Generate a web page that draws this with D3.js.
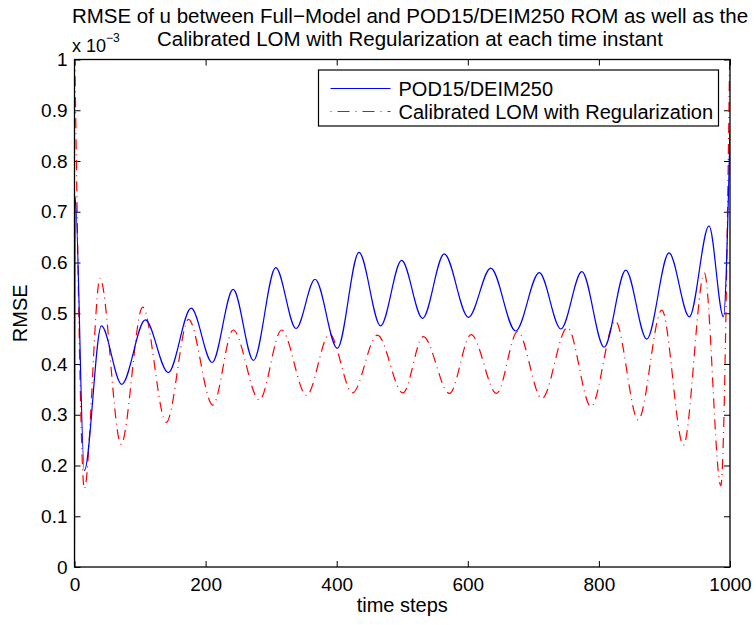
<!DOCTYPE html>
<html>
<head>
<meta charset="utf-8">
<script src="https://cdn.jsdelivr.net/npm/d3@7"></script>
<style>
  body { margin: 0; background: #fff; }
  svg { font-family: "Liberation Sans", Arial, sans-serif; }
  .axis text { font-size: 19px; fill: #000; }
  .axis line { stroke: #000; }
</style>
</head>
<body>
<div id="chart"></div>
<script>
// values (peaks and troughs), units of 1e-3
const podSteps = [0, 1, 15, 41, 72, 108, 143, 178, 210, 242, 273, 307, 338, 367, 401, 434, 467, 499, 531, 564, 601, 635, 673, 709, 742, 774, 808, 841, 873, 907, 938, 968, 990, 1000]
const podValues = [0, 0.73, 0.19, 0.475, 0.36, 0.487, 0.383, 0.51, 0.403, 0.547, 0.407, 0.59, 0.47, 0.567, 0.431, 0.62, 0.475, 0.604, 0.49, 0.617, 0.492, 0.589, 0.465, 0.58, 0.469, 0.582, 0.433, 0.585, 0.449, 0.619, 0.493, 0.672, 0.493, 0.86]

const lomSteps = [0, 15, 39, 71, 104, 140, 174, 211, 242, 282, 316, 354, 389, 424, 462, 501, 532, 572, 605, 644, 676, 713, 752, 788, 825, 860, 896, 929, 961, 986, 1000]
const lomValues = [1.05, 0.154, 0.569, 0.242, 0.512, 0.285, 0.488, 0.319, 0.467, 0.329, 0.467, 0.338, 0.459, 0.343, 0.457, 0.343, 0.454, 0.342, 0.458, 0.342, 0.464, 0.332, 0.472, 0.316, 0.485, 0.29, 0.506, 0.24, 0.579, 0.16, 1.05]

const xTicks = [0, 200, 400, 600, 800, 1000]
const yTicks = [0, 0.1, 0.2, 0.3, 0.4, 0.5, 0.6, 0.7, 0.8, 0.9, 1]
const seriesNames = ['POD15/DEIM250', 'Calibrated LOM with Regularization']

const width = 756
const height = 625
const margin = { top: 59.5, left: 74.5, right: 26, bottom: 58 }
const innerW = width - margin.left - margin.right
const innerH = height - margin.top - margin.bottom

const svg = d3.select('#chart').append('svg')
  .attr('width', width)
  .attr('height', height)

const x = d3.scaleLinear().domain([0, 1000]).range([0, innerW])
const y = d3.scaleLinear().domain([0, 1]).range([innerH, 0])

const g = svg.append('g')
  .attr('transform', `translate(${margin.left},${margin.top})`)

g.append('clipPath').attr('id', 'clip')
  .append('rect').attr('width', innerW).attr('height', innerH)

// axes with inward ticks on all four sides
const tick = 6
g.append('g').attr('class', 'axis')
  .attr('transform', `translate(0,${innerH})`)
  .call(d3.axisBottom(x).tickValues(xTicks).tickSize(-tick).tickPadding(11).tickFormat(d3.format('d')))
g.append('g').attr('class', 'axis')
  .call(d3.axisTop(x).tickValues(xTicks).tickSize(-tick).tickFormat(''))
g.append('g').attr('class', 'axis')
  .call(d3.axisLeft(y).tickValues(yTicks).tickSize(-tick).tickPadding(7).tickFormat(d => d === 0 || d === 1 ? d : d3.format('.1f')(d)))
g.append('g').attr('class', 'axis')
  .attr('transform', `translate(${innerW},0)`)
  .call(d3.axisRight(y).tickValues(yTicks).tickSize(-tick).tickFormat(''))
g.selectAll('.axis .domain').remove()

const podData = podSteps.map((s, i) => [s, podValues[i]])
const lomData = lomSteps.map((s, i) => [s, lomValues[i]])

const line = d3.line()
  .x(d => x(d[0]))
  .y(d => y(d[1]))
  .curve(d3.curveMonotoneX)

const plot = g.append('g').attr('clip-path', 'url(#clip)')
plot.append('path').datum(lomData)
  .attr('d', line)
  .attr('fill', 'none')
  .attr('stroke', '#ff0000')
  .attr('stroke-width', 1.2)
  .attr('stroke-dasharray', '10,5,1,5')
plot.append('path').datum(podData)
  .attr('d', line)
  .attr('fill', 'none')
  .attr('stroke', '#0000ff')
  .attr('stroke-width', 1.2)

// box
g.append('rect')
  .attr('width', innerW).attr('height', innerH)
  .attr('fill', 'none').attr('stroke', '#000').attr('stroke-width', 1.3)

// legend
const legend = svg.append('g').attr('transform', 'translate(318.5,70)')
legend.append('rect')
  .attr('width', 400).attr('height', 56)
  .attr('fill', '#fff').attr('stroke', '#000').attr('stroke-width', 1.2)
const rows = legend.selectAll('.row')
  .data(seriesNames)
  .enter().append('g')
  .attr('transform', (d, i) => `translate(0,${18.5 + i * 23})`)
rows.append('line')
  .attr('x1', 12).attr('x2', 72)
  .attr('stroke', (d, i) => i === 0 ? '#0000ff' : '#ff0000')
  .attr('stroke-width', 1.2)
  .attr('stroke-dasharray', (d, i) => i === 0 ? null : '1,6,12,6')
rows.append('text')
  .attr('x', 80).attr('dy', '0.35em')
  .style('font-size', '20px')
  .text(d => d)

// titles and labels
const title = svg.append('text')
  .attr('x', 410).attr('text-anchor', 'middle').style('font-size', '20.5px')
title.append('tspan').attr('x', 410).attr('y', 23)
  .text('RMSE of u between Full\u2212Model and POD15/DEIM250 ROM as well as the')
title.append('tspan').attr('x', 410).attr('y', 46)
  .text('Calibrated LOM with Regularization at each time instant')

const mult = svg.append('text').attr('x', 72).attr('y', 52).style('font-size', '18px')
mult.append('tspan').text('x 10')
mult.append('tspan').attr('dy', -10).style('font-size', '12px').text('\u22123')

svg.append('text')
  .attr('x', margin.left + innerW / 2).attr('y', 612)
  .attr('text-anchor', 'middle').style('font-size', '20px')
  .text('time steps')

svg.append('text')
  .attr('transform', `translate(27,${margin.top + innerH / 2}) rotate(-90)`)
  .attr('text-anchor', 'middle').style('font-size', '20px')
  .text('RMSE')
</script>
</body>
</html>
